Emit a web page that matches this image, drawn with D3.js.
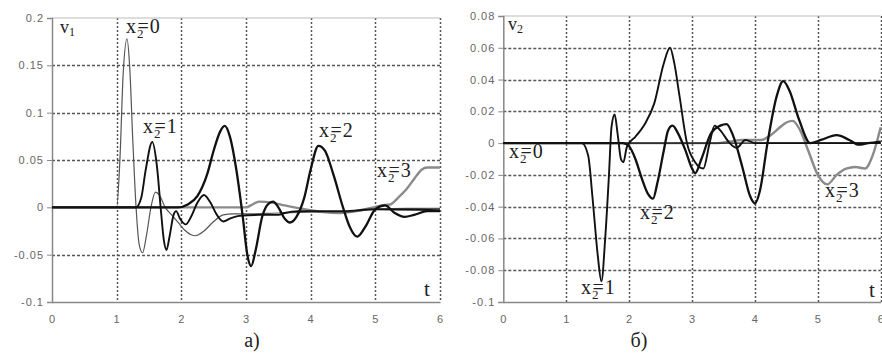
<!DOCTYPE html>
<html>
<head>
<meta charset="utf-8">
<script src="https://cdn.jsdelivr.net/npm/d3@7"></script>
<style>
  body { margin: 0; background: #fff; }
  .tick text { font-family: "Liberation Sans", Arial, sans-serif; font-size: 11px; fill: #666; letter-spacing: 1px; }
  .lbl { font-family: "Liberation Serif", "Times New Roman", serif; fill: #222; }
</style>
</head>
<body>
<div id="chart-area"></div>
<script>
// time axis shared by both panels
const tTicks = [0, 1, 2, 3, 4, 5, 6]
const v1Ticks = [-0.1, -0.05, 0, 0.05, 0.1, 0.15, 0.2]
const v2Ticks = [-0.1, -0.08, -0.06, -0.04, -0.02, 0, 0.02, 0.04, 0.06, 0.08]

// panel a) v1 as [t, v]
const v1_x0 = [[0,0],[1,0],[1.05,0.05],[1.1,0.14],[1.16,0.178],[1.2,0.15],[1.25,0.07],[1.3,0],[1.35,-0.04],[1.4,-0.048],
  [1.46,-0.03],[1.53,0],[1.6,0.016],[1.66,0.013],[1.75,0],[1.85,-0.008],[1.95,-0.016],[2.05,-0.024],[2.15,-0.029],
  [2.22,-0.03],[2.35,-0.025],[2.5,-0.015],[2.65,-0.008],[2.8,-0.007],[3,-0.007],[3.5,-0.006],[4,-0.005],[4.5,-0.005],
  [5,-0.002],[5.5,-0.001],[6,-0.001]]
const v1_x1 = [[0,0],[1.3,0],[1.38,0.01],[1.45,0.04],[1.55,0.069],[1.62,0.045],[1.68,0],[1.73,-0.035],[1.77,-0.045],
  [1.82,-0.03],[1.88,-0.008],[1.92,-0.004],[1.98,-0.012],[2.07,-0.018],[2.15,-0.01],[2.25,0.005],[2.35,0.013],
  [2.45,0.005],[2.55,-0.008],[2.65,-0.015],[2.75,-0.012],[2.9,-0.009],[3.2,-0.008],[3.5,-0.008],[3.6,-0.006],
  [3.8,-0.004],[4.5,-0.004],[5,-0.002],[6,-0.003]]
const v1_x2 = [[0,0],[1.95,0],[2.1,0.003],[2.25,0.012],[2.4,0.035],[2.5,0.06],[2.6,0.08],[2.67,0.086],[2.75,0.075],
  [2.85,0.04],[2.95,-0.01],[3.02,-0.05],[3.08,-0.062],[3.15,-0.045],[3.25,-0.01],[3.35,0.004],[3.42,0.006],[3.5,0],
  [3.6,-0.012],[3.68,-0.016],[3.78,-0.01],[3.9,0.01],[4,0.04],[4.12,0.065],[4.22,0.06],[4.35,0.035],[4.5,0],
  [4.6,-0.02],[4.72,-0.031],[4.85,-0.02],[5,-0.002],[5.15,0.002],[5.3,-0.006],[5.45,-0.01],[5.6,-0.008],[5.8,-0.004],[6,-0.004]]
const v1_x3 = [[0,0],[3,0],[3.1,0.003],[3.2,0.006],[3.4,0.005],[3.6,0.002],[3.9,-0.002],[4.2,-0.005],[4.45,-0.006],
  [4.7,-0.004],[4.97,0],[5.1,0.002],[5.23,0.003],[5.35,0.01],[5.48,0.019],[5.6,0.03],[5.72,0.04],[5.8,0.042],[6,0.042]]

// panel б) v2
const v2_x0 = [[0,0],[6,0]]
const v2_x1 = [[0,0],[1.25,0],[1.35,-0.008],[1.42,-0.035],[1.5,-0.07],[1.56,-0.087],[1.62,-0.06],[1.68,-0.02],
  [1.72,0.01],[1.77,0.018],[1.82,0.005],[1.87,-0.01],[1.91,-0.012],[1.96,-0.003],[2,0],[2.1,0.004],[2.25,0.012],
  [2.4,0.025],[2.55,0.05],[2.65,0.06],[2.72,0.05],[2.8,0.03],[2.92,0],[3.05,-0.012],[3.18,-0.016],[3.28,0],
  [3.36,0.011],[3.45,0.008],[3.6,0],[3.71,-0.003],[3.85,0.002],[4,0],[6,0]]
const v2_x2 = [[0,0],[1.9,0],[2,-0.002],[2.1,-0.01],[2.2,-0.022],[2.3,-0.032],[2.38,-0.035],[2.45,-0.025],[2.55,-0.005],
  [2.62,0.008],[2.69,0.011],[2.78,0.006],[2.9,-0.005],[3,-0.016],[3.05,-0.019],[3.15,-0.01],[3.3,0.006],[3.45,0.011],
  [3.55,0.012],[3.65,0.005],[3.8,-0.015],[3.92,-0.033],[4,-0.038],[4.08,-0.03],[4.2,0],[4.35,0.03],[4.45,0.039],
  [4.55,0.033],[4.7,0.015],[4.88,0],[5.05,0.002],[5.3,0.005],[5.5,0.002],[5.65,-0.001],[5.8,0],[6,0.001]]
const v2_x3 = [[0,0],[3.4,0],[3.6,0.001],[3.8,0.002],[3.95,0.002],[4.1,0.002],[4.25,0.005],[4.4,0.01],[4.5,0.013],
  [4.6,0.014],[4.72,0.008],[4.85,-0.005],[5,-0.02],[5.15,-0.026],[5.3,-0.02],[5.45,-0.016],[5.6,-0.015],[5.75,-0.016],
  [5.87,-0.008],[6,0.01]]

const svg = d3.select("#chart-area").append("svg")
    .attr("width", 882)
    .attr("height", 354)

function drawPanel(p) {
    const x = d3.scaleLinear().domain([0, 6]).range([p.left, p.right])
    const y = d3.scaleLinear().domain(p.yDomain).range([p.bottom, p.top])
    const g = svg.append("g")

    // grid: dotted verticals, dashed horizontals
    g.selectAll("line.vgrid").data(tTicks.slice(1)).join("line")
        .attr("class", "vgrid")
        .attr("x1", d => Math.round(x(d)) + 0.5).attr("x2", d => Math.round(x(d)) + 0.5)
        .attr("y1", p.top).attr("y2", p.bottom)
        .attr("stroke", "#555").attr("stroke-width", 1.5).attr("stroke-dasharray", "2 2")
    g.selectAll("line.hgrid")
        .data(p.yTicks.filter(d => d !== 0 && d !== p.yDomain[0] && d !== p.yDomain[1])).join("line")
        .attr("class", "hgrid")
        .attr("x1", p.left).attr("x2", p.right)
        .attr("y1", d => Math.round(y(d)) + 0.5).attr("y2", d => Math.round(y(d)) + 0.5)
        .attr("stroke", "#555").attr("stroke-width", 1.5).attr("stroke-dasharray", "3 2")
    g.append("line")
        .attr("x1", p.left).attr("x2", p.right)
        .attr("y1", p.top).attr("y2", p.top)
        .attr("stroke", "#bbb").attr("stroke-width", 1.2)

    // axes
    const fmt = d => String(+d.toFixed(2))
    const ay = g.append("g").attr("transform", `translate(${p.left},0)`)
        .call(d3.axisLeft(y).tickValues(p.yTicks).tickSize(5).tickPadding(3).tickFormat(fmt))
    ay.select(".domain").attr("stroke", "#888").attr("stroke-width", 1.5)
    ay.selectAll(".tick line").attr("stroke", "#888")
    const ax = g.append("g").attr("transform", `translate(0,${p.bottom})`)
        .call(d3.axisBottom(x).tickValues(tTicks).tickSize(0).tickPadding(13).tickFormat(d3.format("d")))
    ax.select(".domain").attr("stroke", "#888").attr("stroke-width", 1.5)

    // curves
    const line = d3.line().x(d => x(d[0])).y(d => y(d[1])).curve(d3.curveMonotoneX)
    p.series.forEach(s => {
        g.append("path").datum(s.data)
            .attr("d", line)
            .attr("fill", "none")
            .attr("stroke", s.color)
            .attr("stroke-width", s.width)
            .attr("stroke-linejoin", "round")
    })

    // labels
    const vlab = g.append("text").attr("class", "lbl").attr("x", p.vPos[0]).attr("y", p.vPos[1]).attr("font-size", 18)
    vlab.append("tspan").text("v")
    vlab.append("tspan").attr("font-size", 12).attr("dy", 3).text(p.vSub)

    p.labels.forEach(l => {
        const t = g.append("text").attr("class", "lbl").attr("x", l.x).attr("y", l.y)
            .attr("font-size", 20).attr("letter-spacing", 1)
        t.append("tspan").text("x")
        t.append("tspan").attr("font-size", 13).attr("dy", 5).text("2")
        t.append("tspan").attr("dx", -7).attr("dy", -5).text("=" + l.k)
    })

    g.append("text").attr("class", "lbl").attr("x", p.tPos[0]).attr("y", p.tPos[1])
        .attr("font-size", 21).text("t")
    g.append("text").attr("class", "lbl").attr("x", p.cap[0]).attr("y", p.cap[1])
        .attr("font-size", 20).attr("text-anchor", "middle").text(p.capText)
}

drawPanel({
    left: 52, right: 440, top: 18, bottom: 302,
    yDomain: [-0.1, 0.2], yTicks: v1Ticks,
    series: [
        { data: v1_x3, color: "#8a8a8a", width: 2.4 },
        { data: v1_x0, color: "#555", width: 1.2 },
        { data: v1_x1, color: "#111", width: 1.9 },
        { data: v1_x2, color: "#111", width: 2.3 }
    ],
    vPos: [60, 33], vSub: "1",
    labels: [
        { x: 126, y: 33, k: 0 },
        { x: 143, y: 133, k: 1 },
        { x: 319, y: 137, k: 2 },
        { x: 377, y: 177, k: 3 }
    ],
    tPos: [424, 296], cap: [252, 347], capText: "а)"
})

drawPanel({
    left: 503.3, right: 880.7, top: 16, bottom: 302,
    yDomain: [-0.1, 0.08], yTicks: v2Ticks,
    series: [
        { data: v2_x3, color: "#8a8a8a", width: 2.4 },
        { data: v2_x0, color: "#111", width: 1.3 },
        { data: v2_x1, color: "#111", width: 1.9 },
        { data: v2_x2, color: "#111", width: 2.3 }
    ],
    vPos: [508, 30], vSub: "2",
    labels: [
        { x: 509, y: 158, k: 0 },
        { x: 581, y: 294, k: 1 },
        { x: 640, y: 219, k: 2 },
        { x: 825, y: 197, k: 3 }
    ],
    tPos: [869, 297], cap: [639, 347], capText: "б)"
})
</script>
</body>
</html>
